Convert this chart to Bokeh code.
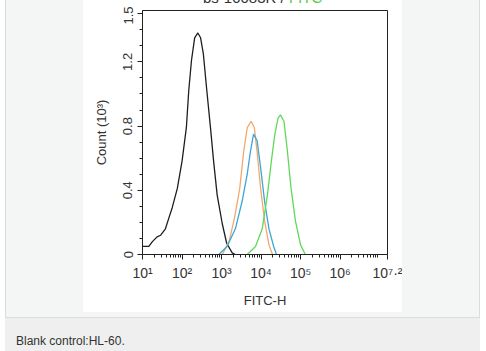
from bokeh.plotting import figure
from bokeh.models import FixedTicker, Range1d, Div
from bokeh.layouts import row, column
from bokeh.embed import file_html
from bokeh.resources import INLINE

# ---------------- data (log10 FITC-H, count in 10^3) ----------------
black_log10 = [1.0, 1.16, 1.25, 1.37, 1.46, 1.58, 1.67, 1.75, 1.88, 2.0, 2.11, 2.17, 2.24,
               2.32, 2.40, 2.47, 2.54, 2.62, 2.72, 2.80, 2.89, 3.02, 3.13, 3.27, 3.35]
black_count = [0.05, 0.05, 0.08, 0.11, 0.12, 0.16, 0.23, 0.29, 0.41, 0.58, 0.79, 1.02, 1.21,
               1.35, 1.38, 1.35, 1.25, 1.04, 0.79, 0.58, 0.37, 0.19, 0.07, 0.01, 0.0]

orange_log10 = [3.02, 3.19, 3.33, 3.46, 3.56, 3.65, 3.75, 3.83, 3.90, 3.99, 4.09, 4.20, 4.29]
orange_count = [0.0, 0.08, 0.23, 0.41, 0.64, 0.79, 0.83, 0.79, 0.64, 0.41, 0.21, 0.06, 0.0]

blue_log10 = [2.93, 3.14, 3.35, 3.52, 3.65, 3.73, 3.81, 3.90, 3.99, 4.09, 4.20, 4.32, 4.39]
blue_count = [0.0, 0.05, 0.16, 0.33, 0.50, 0.64, 0.75, 0.71, 0.54, 0.33, 0.16, 0.05, 0.0]

green_log10 = [3.65, 3.86, 4.03, 4.16, 4.26, 4.35, 4.43, 4.49, 4.58, 4.66, 4.76, 4.87, 5.00, 5.12]
green_count = [0.0, 0.05, 0.16, 0.37, 0.58, 0.75, 0.85, 0.87, 0.83, 0.66, 0.41, 0.21, 0.06, 0.0]

x_tick_exp = [1, 2, 3, 4, 5, 6, 7.2]
x_tick_labels = ["10¹", "10²", "10³", "10⁴", "10⁵", "10⁶", "10⁷·²"]
y_ticks = [0, 0.4, 0.8, 1.2, 1.5]
y_tick_labels = ["0", "0.4", "0.8", "1.2", "1.5"]

title_black = "bs-10083R /"
title_green = "FITC"
caption = "Blank control:HL-60."

# ---------------- styling ----------------
FONT = "Liberation Sans"
INK = "#333333"
PANEL = "#f4f5f5"
CAPTION_BG = "#eeefee"
BORDER = "#dcdcdc"

p = figure(width=319, height=306, x_axis_type="log",
           x_range=Range1d(10, 10 ** 7.2), y_range=Range1d(0, 1.52),
           output_backend="svg", toolbar_location=None,
           min_border_left=59, min_border_right=15,
           min_border_top=4, min_border_bottom=58)
p.border_fill_color = "white"
p.background_fill_color = "white"
p.outline_line_color = "#222222"
p.outline_line_width = 1
p.grid.visible = False

for xs, ys, col in [(black_log10, black_count, "#1e1e1e"),
                    (orange_log10, orange_count, "#f2a86c"),
                    (blue_log10, blue_count, "#3aa6d8"),
                    (green_log10, green_count, "#62d85a")]:
    p.line([10 ** v for v in xs], ys, line_color=col, line_width=1.3)

# x axis
x_ticks = [10 ** e for e in x_tick_exp]
minor = [m * 10 ** k for k in range(1, 8) for m in range(2, 10) if m * 10 ** k < 10 ** 7.2]
xa = p.xaxis[0]
xa.ticker = FixedTicker(ticks=x_ticks, minor_ticks=minor)
xa.major_label_overrides = {t: l for t, l in zip(x_ticks, x_tick_labels)}
xa.major_label_text_font = FONT
xa.major_label_text_font_size = "14px"
xa.major_label_text_color = INK
xa.major_label_standoff = 5
xa.axis_line_color = "#222222"
xa.major_tick_line_color = "#222222"
xa.minor_tick_line_color = "#222222"
xa.major_tick_out = 5
xa.major_tick_in = 0
xa.minor_tick_out = 3
xa.minor_tick_in = 0
xa.axis_label = "FITC-H"
xa.axis_label_text_font = FONT
xa.axis_label_text_font_size = "13px"
xa.axis_label_text_font_style = "normal"
xa.axis_label_text_color = INK
xa.axis_label_standoff = 9

# y axis
ya = p.yaxis[0]
ya.ticker = FixedTicker(ticks=y_ticks,
                        minor_ticks=[0.1, 0.2, 0.3, 0.5, 0.6, 0.7, 0.9, 1.0, 1.1, 1.3, 1.4])
ya.major_label_overrides = {t: l for t, l in zip(y_ticks, y_tick_labels)}
ya.major_label_orientation = "vertical"
ya.major_label_text_font = FONT
ya.major_label_text_font_size = "13px"
ya.major_label_text_color = INK
ya.major_label_standoff = 5
ya.axis_line_color = "#222222"
ya.major_tick_line_color = "#222222"
ya.minor_tick_line_color = "#222222"
ya.major_tick_out = 5
ya.major_tick_in = 0
ya.minor_tick_out = 3
ya.minor_tick_in = 0
ya.axis_label = "Count (10³)"
ya.axis_label_text_font = FONT
ya.axis_label_text_font_size = "13px"
ya.axis_label_text_font_style = "normal"
ya.axis_label_text_color = INK
ya.axis_label_standoff = 12


def block(w, h, color, html="", extra=None):
    st = {"background-color": color, "overflow": "hidden"}
    if extra:
        st.update(extra)
    return Div(text=html, width=w, height=h, margin=0, styles=st)


title_html = (
    f'<div style="position:relative;left:120px;top:-10px;white-space:nowrap;'
    f'font-family:\'{FONT}\';font-size:15px;line-height:15px;color:{INK}">'
    f'{title_black} <span style="color:#55cc44">{title_green}</span></div>'
)
caption_html = (
    f'<div style="padding:16px 0 0 11px;white-space:nowrap;'
    f'font-family:\'{FONT}\';font-size:12px;line-height:14px;color:{INK}">{caption}</div>'
)

middle = column(block(319, 6, "white", title_html), p, block(319, 5, PANEL),
                spacing=0, margin=0)
top_row = row(block(5, 317, "white"), block(1, 317, BORDER), block(77, 317, PANEL),
              middle,
              block(77, 317, PANEL), block(1, 317, BORDER), block(6, 317, "white"),
              spacing=0, margin=0)
border_row = row(block(5, 1, "white"), block(475, 1, BORDER), block(6, 1, "white"),
                 spacing=0, margin=0)
caption_row = row(block(5, 33, "white"), block(475, 33, CAPTION_BG, caption_html),
                  block(6, 33, "white"), spacing=0, margin=0)
page = column(top_row, border_row, caption_row, spacing=0, margin=0)

open("out.html", "w").write(file_html(page, INLINE))
